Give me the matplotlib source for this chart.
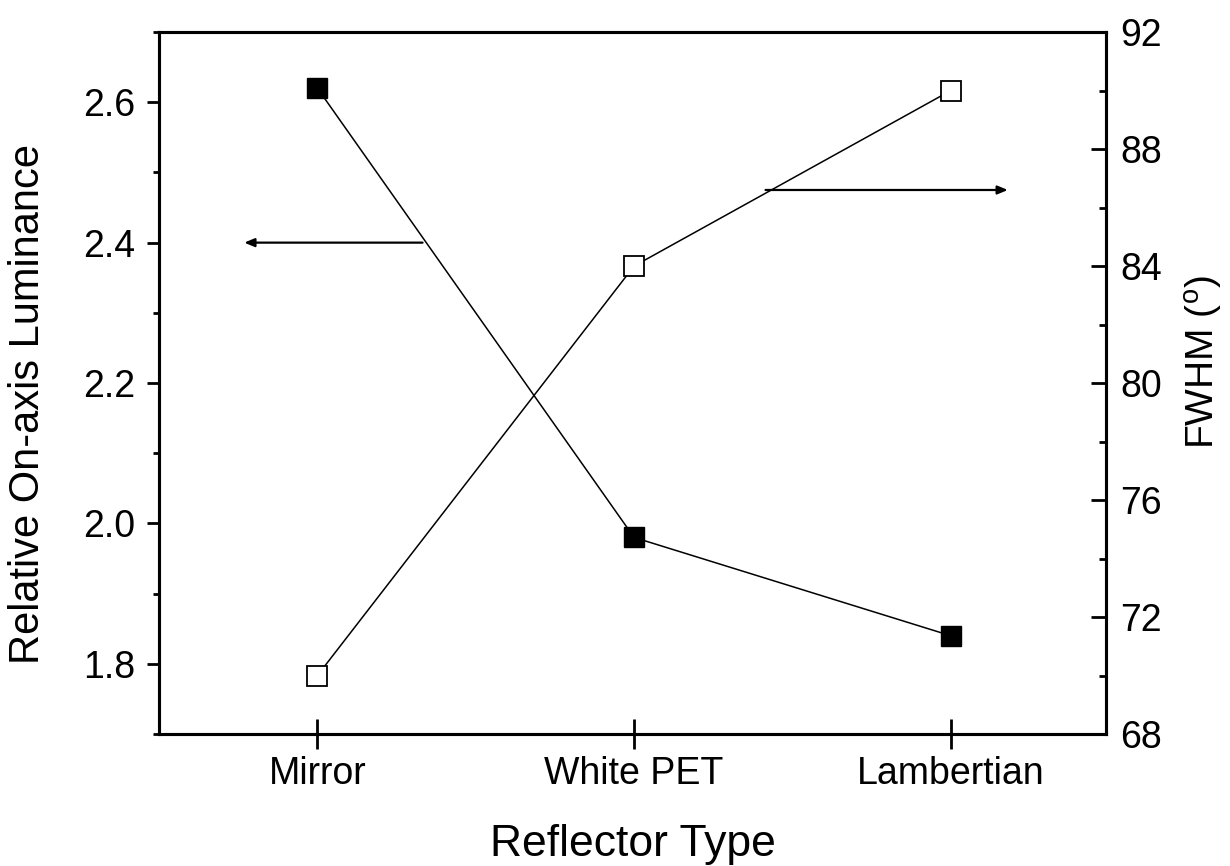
import matplotlib
matplotlib.use("Agg")
import matplotlib.pyplot as plt
from matplotlib.ticker import MultipleLocator

plt.rcParams['font.family'] = ['Liberation Sans', 'DejaVu Sans']

categories = ["Mirror", "White PET", "Lambertian"]
luminance = [2.62, 1.98, 1.84]
fwhm = [70, 84, 90]

fig = plt.figure(figsize=(12.3, 8.66), dpi=100)
ax = fig.add_axes([0.1293, 0.1524, 0.8992 - 0.1293, 0.963 - 0.1524])
ax2 = ax.twinx()

x = list(range(len(categories)))
ax.plot(x, luminance, color='black', lw=1.1, marker='s', ms=15,
        markerfacecolor='black', markeredgecolor='black', zorder=3)
ax2.plot(x, fwhm, color='black', lw=1.1, marker='s', ms=14,
         markerfacecolor='white', markeredgecolor='black', markeredgewidth=1.3, zorder=3)

ax.set_xlim(-0.5, 2.49)
ax.set_ylim(1.7, 2.7)
ax2.set_ylim(68, 92)

ax.set_xticks(x)
ax.set_xticklabels(categories)
ax.yaxis.set_major_locator(MultipleLocator(0.2))
ax.yaxis.set_minor_locator(MultipleLocator(0.1))
ax2.yaxis.set_major_locator(MultipleLocator(4))
ax2.yaxis.set_minor_locator(MultipleLocator(2))

for sp in ax.spines.values():
    sp.set_linewidth(2.2)
for sp in ax2.spines.values():
    sp.set_linewidth(2.2)

ax.tick_params(axis='y', which='major', direction='out', length=9, width=2, labelsize=27, pad=8)
ax.tick_params(axis='y', which='minor', direction='out', length=4, width=2)
ax.tick_params(axis='x', which='major', direction='inout', length=21, width=2, labelsize=27, pad=5)
ax2.tick_params(axis='y', which='major', direction='in', length=11, width=2, labelsize=27, pad=10)
ax2.tick_params(axis='y', which='minor', direction='in', length=5, width=2)

ax.set_xlabel("Reflector Type", fontsize=32)
ax.xaxis.set_label_coords(0.5, -0.128)
ax.set_ylabel("Relative On-axis Luminance", fontsize=30)
ax.yaxis.set_label_coords(-0.117, 0.47)
ax2.set_ylabel(r"FWHM ($\mathregular{^o}$)", fontsize=28, rotation=90)
ax2.yaxis.set_label_coords(1.081, 0.53)

arrow = dict(arrowstyle='-|>,head_length=0.6,head_width=0.25', color='black', lw=1.6,
             shrinkA=0, shrinkB=0)
ax.annotate("", xy=(-0.231, 2.4), xytext=(0.332, 2.4), arrowprops=arrow)
ax2.annotate("", xy=(2.18, 86.6), xytext=(1.415, 86.6), arrowprops=arrow)

fig.savefig("out.png", dpi=100)
